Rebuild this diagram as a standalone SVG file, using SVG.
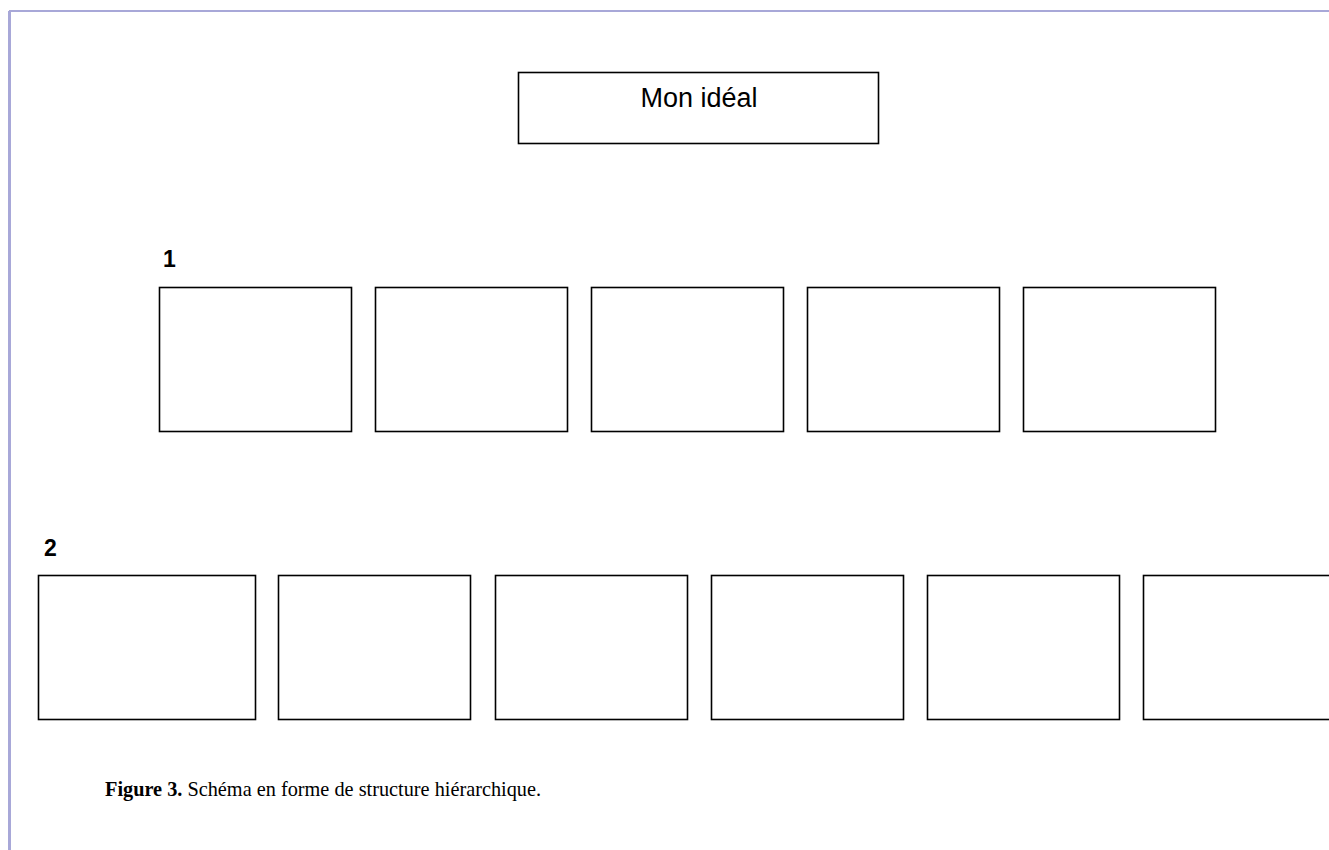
<svg xmlns="http://www.w3.org/2000/svg" width="1329" height="850" viewBox="0 0 1329 850">
<style>
.box{fill:#fff;stroke:#000;stroke-width:1.6}
.num{font-family:"Liberation Sans",Arial,sans-serif;font-weight:bold;font-size:23px;fill:#000}
.cap{font-family:"Liberation Serif","Times New Roman",serif;font-size:20.3px;fill:#000}
</style>
<rect width="1329" height="850" fill="#fff"/>
<g id="frame">
<line x1="9" y1="11" x2="1329" y2="11" stroke="#a8a8d8" stroke-width="2"/>
<line x1="9.5" y1="11" x2="9.5" y2="850" stroke="#a8a8d8" stroke-width="3"/>
</g>
<g id="connectors"></g>
<g id="top">
<rect class="box" x="518.5" y="72.5" width="360" height="71"/>
<text x="699" y="107" text-anchor="middle" font-family="Liberation Sans, Arial, sans-serif" font-size="27" fill="#000">Mon idéal</text>
</g>
<g id="label1"><text class="num" x="163" y="267">1</text></g>
<g id="r1b1"><rect class="box" x="159.5" y="287.5" width="192" height="144"/></g>
<g id="r1b2"><rect class="box" x="375.5" y="287.5" width="192" height="144"/></g>
<g id="r1b3"><rect class="box" x="591.5" y="287.5" width="192" height="144"/></g>
<g id="r1b4"><rect class="box" x="807.5" y="287.5" width="192" height="144"/></g>
<g id="r1b5"><rect class="box" x="1023.5" y="287.5" width="192" height="144"/></g>
<g id="label2"><text class="num" x="44" y="556">2</text></g>
<g id="r2b1"><rect class="box" x="38.5" y="575.5" width="217" height="144"/></g>
<g id="r2b2"><rect class="box" x="278.5" y="575.5" width="192" height="144"/></g>
<g id="r2b3"><rect class="box" x="495.5" y="575.5" width="192" height="144"/></g>
<g id="r2b4"><rect class="box" x="711.5" y="575.5" width="192" height="144"/></g>
<g id="r2b5"><rect class="box" x="927.5" y="575.5" width="192" height="144"/></g>
<g id="r2b6"><rect class="box" x="1143.5" y="575.5" width="250" height="144"/></g>
<g id="caption">
<text class="cap" x="105" y="796"><tspan font-weight="bold">Figure 3.</tspan> Schéma en forme de structure hiérarchique.</text>
</g>
</svg>
